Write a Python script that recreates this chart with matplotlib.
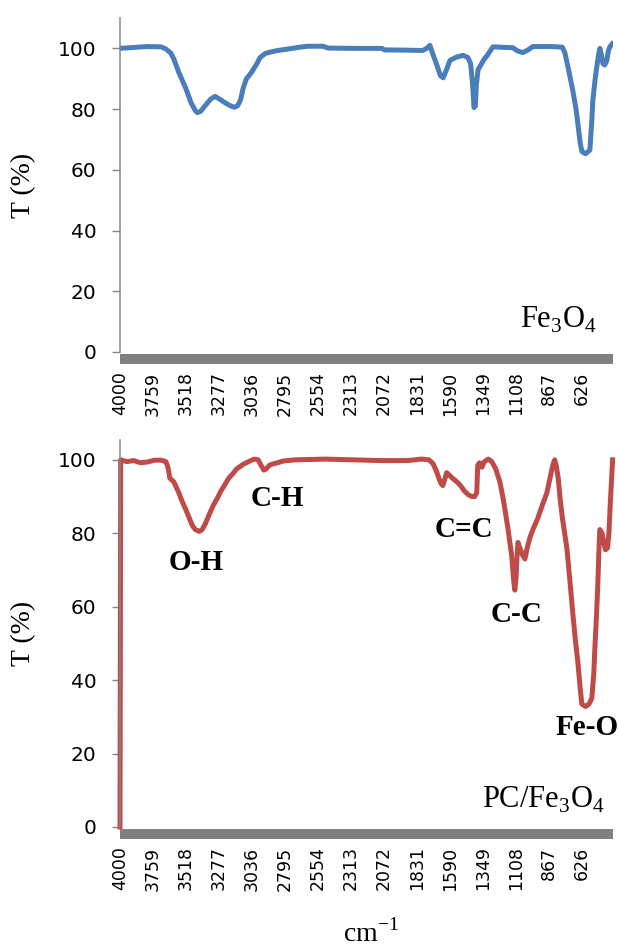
import matplotlib
matplotlib.use("Agg")
import matplotlib.pyplot as plt

# FTIR spectra, wavenumber (cm-1) vs transmittance (%)
wn_fe3o4 = [4000, 3900, 3800, 3700, 3665, 3630, 3607, 3570, 3521, 3480, 3450, 3435, 3410, 3380,
            3340, 3306, 3270, 3230, 3190, 3163, 3140, 3120, 3100, 3077, 3050, 3034, 3000, 2977,
            2940, 2900, 2850, 2800, 2700, 2632, 2518, 2480, 2300, 2088, 2070, 1900, 1790, 1760,
            1737, 1715, 1690, 1660, 1640, 1620, 1591, 1550, 1496, 1460, 1440, 1425, 1415, 1405,
            1398, 1385, 1372, 1340, 1321, 1277, 1131, 1100, 1058, 1020, 985, 850, 770, 751, 720,
            693, 670, 656, 640, 627, 600, 569, 555, 547, 530, 518, 505, 496, 485, 474, 460, 445,
            435, 423, 405]
t_fe3o4 = [100, 100.3, 100.6, 100.5, 99.8, 98.5, 96.5, 92, 87, 82, 79.5, 78.8, 79.3, 81,
           83.2, 84.2, 83.2, 82, 81, 80.6, 81.2, 83, 87, 90, 91.5, 92.5, 95, 97,
           98.3, 98.8, 99.3, 99.6, 100.3, 100.7, 100.7, 100.1, 100, 100, 99.5, 99.4, 99.3, 100,
           101, 98, 95, 91, 90.3, 92.5, 96, 97, 97.7, 97, 95, 88, 80.5, 81,
           88, 93, 94, 96.5, 97.5, 100.5, 100.2, 99.2, 98.6, 99.5, 100.6, 100.6, 100.4, 98.5, 92,
           86, 80, 75, 69, 66, 65.3, 66.5, 76, 83, 90, 94, 98, 100, 98, 95, 94.5, 96,
           99, 100.5, 101.5]

wn_pc = [4000, 3995, 3950, 3900, 3850, 3800, 3750, 3700, 3665, 3650, 3636, 3607, 3570, 3550,
         3520, 3493, 3470, 3450, 3421, 3400, 3378, 3350, 3320, 3290, 3263, 3230, 3206, 3170,
         3149, 3100, 3062, 3020, 2991, 2970, 2950, 2933, 2910, 2890, 2850, 2804, 2718, 2500,
         2300, 2100, 1900, 1800, 1744, 1715, 1690, 1672, 1655, 1643, 1630, 1615, 1600, 1572,
         1540, 1514, 1485, 1457, 1430, 1410, 1395, 1388, 1375, 1357, 1340, 1310, 1285, 1256,
         1226, 1200, 1170, 1140, 1125, 1117, 1108, 1100, 1094, 1080, 1060, 1043, 1027, 1005,
         985, 950, 913, 883, 860, 840, 826, 815, 800, 785, 769, 737, 712, 693, 675, 657, 640,
         628, 600, 575, 555, 540, 532, 520, 510, 503, 496, 480, 470, 455, 440, 430, 420, 410, 403]
t_pc = [0, 100, 99.5, 99.8, 99.2, 99.4, 99.9, 99.9, 99.5, 98, 95, 94, 91, 89,
        86.5, 84, 82, 81, 80.5, 81, 82.5, 85, 87.5, 89.5, 91.5, 93.5, 95, 96.5,
        97.5, 98.8, 99.5, 100.2, 100, 98.5, 97.2, 97.5, 98.5, 98.8, 99.2, 99.7, 100, 100.2,
        100, 99.8, 99.8, 100.2, 100, 99, 97, 95, 93.5, 93, 94.5, 96.5, 96, 95,
        94, 93, 91.5, 90.5, 90, 90, 91, 98.5, 99.2, 98, 99.5, 100.2, 99.5, 97.5,
        94, 89, 82, 74, 67, 64.5, 68, 74, 77.5, 76, 74, 73, 76, 79,
        81, 84, 88, 91, 95, 98.5, 100, 98.5, 95, 89, 84, 76, 66, 58, 51, 45, 38,
        33.5, 32.8, 33.5, 35, 42, 49, 58, 67, 75, 81, 80, 78, 75.5, 76, 80, 88, 95, 100]

tick_wn = [4000, 3759, 3518, 3277, 3036, 2795, 2554, 2313, 2072, 1831, 1590, 1349, 1108, 867, 626]

# band labels on the PC/Fe3O4 spectrum: (text, wavenumber, T)
bands = [("O-H", 3445, 72), ("C-H", 2854, 89.6), ("C=C", 1489, 81),
         ("C-C", 1102, 58), ("Fe-O", 591, 27)]

W, H = 619, 951
fig = plt.figure(figsize=(W / 100, H / 100), dpi=100)

ax1 = fig.add_axes([120 / W, 1 - 352 / H, 493 / W, 334 / H])
ax2 = fig.add_axes([120 / W, 1 - 827 / H, 493 / W, 387 / H])


def style(ax, top):
    ax.set_xlim(4000, 400)
    ax.set_ylim(0, top)
    ax.set_yticks([0, 20, 40, 60, 80, 100])
    ax.set_xticks(tick_wn)
    ax.spines["top"].set_visible(False)
    ax.spines["right"].set_visible(False)
    ax.spines["left"].set_color("#868686")
    ax.spines["left"].set_linewidth(1.1)
    sp = ax.spines["bottom"]
    sp.set_position(("outward", 5))
    sp.set_linewidth(7.2)
    sp.set_color("#808080")
    sp.set_capstyle("butt")
    ax.tick_params(axis="x", length=0, pad=9, labelrotation=90, labelsize=12.5)
    ax.tick_params(axis="y", length=6, width=1, color="#868686", pad=11, labelsize=14.5)
    ax.set_ylabel("T (%)", family="Liberation Serif", fontsize=20)
    ax.yaxis.set_label_coords(-0.17, 0.5)


ax1.plot(wn_fe3o4, t_fe3o4, color="#4a7ebb", lw=3.6, solid_joinstyle="round")
style(ax1, 110)
ax1.text(0.89, 0.096, r"Fe$_\mathregular{3}$O$_\mathregular{4}$", transform=ax1.transAxes,
         ha="center", va="center", family="Liberation Serif", fontsize=22)

ax2.plot(wn_pc, t_pc, color="#be4b48", lw=3.6, solid_joinstyle="round", clip_on=False)
style(ax2, 105.4)
ax2.text(0.858, 0.07, r"PC/Fe$_\mathregular{3}$O$_\mathregular{4}$", transform=ax2.transAxes,
         ha="center", va="center", family="Liberation Serif", fontsize=22)
for name, x, y in bands:
    ax2.text(x, y, name, ha="center", va="center", family="Liberation Serif",
             fontweight="bold", fontsize=21)

fig.text(371 / W, 3 / H, r"cm$^{\mathregular{-1}}$", ha="center", va="bottom",
         family="Liberation Serif", fontsize=20)

fig.savefig("out.png", dpi=100)
